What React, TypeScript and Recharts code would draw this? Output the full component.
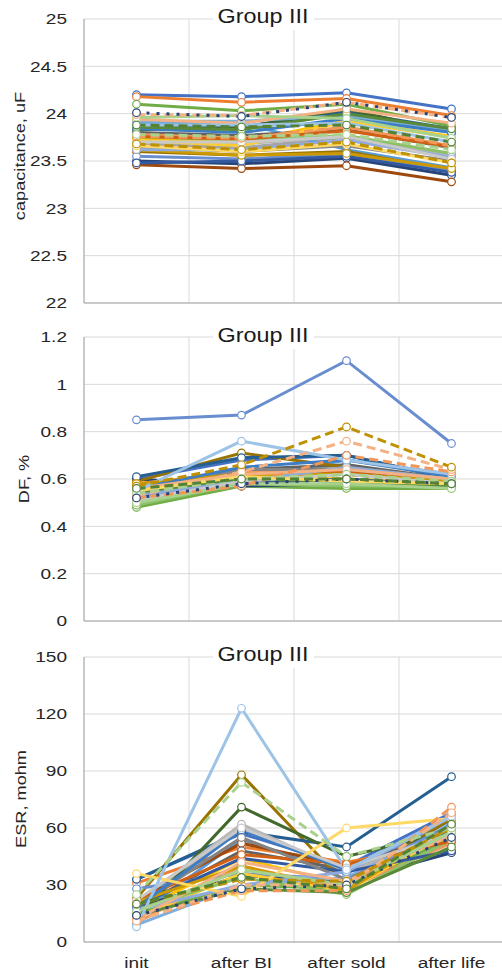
import React from 'react';
import { LineChart, Line, XAxis, YAxis, CartesianGrid } from 'recharts';

const categories = ['init', 'after BI', 'after sold', 'after life'];

const seriesColors = [
  '#4472C4', '#ED7D31', '#A5A5A5', '#FFC000', '#5B9BD5', '#70AD47',
  '#264478', '#9E480E', '#636363', '#997300', '#255E91', '#43682B',
  '#698ED0', '#F1975A', '#B7B7B7', '#FFCD33', '#7CAFDD', '#8CC168',
  '#335AA1', '#D26012', '#848484', '#CC9A00', '#3C7DC4', '#5A8A39',
  '#8FAADC', '#F4B183', '#C9C9C9', '#FFD966', '#9DC3E6', '#A9D18E',
  '#F1975A', '#F4B183', '#BF9000', '#A9D18E', '#264478', '#548235',
];

const seriesDash = [
  '', '', '', '', '', '', '', '', '', '', '', '',
  '', '', '', '', '', '', '', '', '', '', '', '',
  '', '', '', '', '', '',
  '9 5', '9 5', '9 5', '9 5', '3 7', '9 5',
];

const capacitance = [
  [24.2, 24.18, 24.22, 24.05],
  [24.18, 24.12, 24.16, 23.98],
  [23.68, 23.64, 23.75, 23.55],
  [23.74, 23.7, 23.93, 23.76],
  [23.9, 23.9, 23.62, 23.43],
  [24.1, 24.03, 24.1, 23.87],
  [23.5, 23.47, 23.53, 23.35],
  [23.46, 23.42, 23.45, 23.28],
  [23.8, 23.77, 23.83, 23.64],
  [23.6, 23.56, 23.6, 23.4],
  [23.86, 23.86, 24.02, 23.84],
  [23.83, 23.85, 24.05, 23.8],
  [23.55, 23.52, 23.58, 23.4],
  [23.78, 23.74, 23.86, 23.66],
  [23.7, 23.68, 23.76, 23.56],
  [23.72, 23.66, 23.92, 23.75],
  [23.92, 23.92, 23.98, 23.82],
  [23.76, 23.72, 23.77, 23.58],
  [23.48, 23.5, 23.55, 23.38],
  [23.76, 23.73, 23.82, 23.65],
  [23.65, 23.6, 23.66, 23.5],
  [23.62, 23.56, 23.58, 23.42],
  [23.84, 23.8, 23.95, 23.8],
  [23.86, 23.83, 24.0, 23.84],
  [23.62, 23.62, 23.72, 23.54],
  [23.94, 23.9, 24.05, 23.9],
  [23.7, 23.7, 23.76, 23.52],
  [23.66, 23.6, 23.68, 23.48],
  [23.88, 23.88, 23.9, 23.7],
  [23.96, 23.98, 23.95, 23.74],
  [23.76, 23.74, 23.86, 23.66],
  [23.99, 23.98, 24.12, 23.96],
  [23.68, 23.62, 23.7, 23.48],
  [23.78, 23.76, 23.78, 23.62],
  [24.01, 23.97, 24.12, 23.96],
  [23.88, 23.86, 23.88, 23.7],
];

const dissipation = [
  [0.6, 0.68, 0.7, 0.6],
  [0.58, 0.62, 0.64, 0.59],
  [0.5, 0.6, 0.66, 0.59],
  [0.56, 0.6, 0.6, 0.58],
  [0.54, 0.6, 0.68, 0.62],
  [0.48, 0.57, 0.56, 0.56],
  [0.6, 0.57, 0.58, 0.57],
  [0.57, 0.63, 0.63, 0.59],
  [0.56, 0.64, 0.66, 0.6],
  [0.59, 0.71, 0.65, 0.6],
  [0.61, 0.69, 0.7, 0.6],
  [0.55, 0.6, 0.62, 0.58],
  [0.85, 0.87, 1.1, 0.75],
  [0.58, 0.63, 0.62, 0.59],
  [0.52, 0.61, 0.64, 0.6],
  [0.55, 0.62, 0.6, 0.58],
  [0.53, 0.58, 0.63, 0.6],
  [0.49, 0.58, 0.57, 0.57],
  [0.57, 0.58, 0.6, 0.57],
  [0.57, 0.62, 0.63, 0.59],
  [0.55, 0.64, 0.64, 0.6],
  [0.58, 0.62, 0.62, 0.59],
  [0.56, 0.65, 0.68, 0.61],
  [0.54, 0.6, 0.59, 0.57],
  [0.53, 0.59, 0.65, 0.6],
  [0.56, 0.62, 0.64, 0.6],
  [0.51, 0.59, 0.62, 0.58],
  [0.55, 0.61, 0.59, 0.58],
  [0.55, 0.76, 0.68, 0.62],
  [0.5, 0.58, 0.58, 0.56],
  [0.52, 0.57, 0.7, 0.63],
  [0.53, 0.63, 0.76, 0.64],
  [0.57, 0.66, 0.82, 0.65],
  [0.54, 0.6, 0.62, 0.59],
  [0.52, 0.58, 0.6, 0.58],
  [0.56, 0.6, 0.6, 0.58],
];

const esr = [
  [33, 57, 40, 68],
  [31, 50, 42, 52],
  [20, 60, 38, 55],
  [16, 44, 30, 60],
  [14, 54, 36, 64],
  [15, 30, 28, 55],
  [18, 35, 32, 47],
  [22, 52, 40, 57],
  [18, 48, 38, 60],
  [23, 88, 30, 65],
  [33, 58, 50, 87],
  [12, 71, 45, 58],
  [28, 36, 33, 62],
  [10, 40, 28, 52],
  [21, 62, 37, 56],
  [13, 36, 27, 58],
  [9, 30, 34, 60],
  [17, 34, 25, 54],
  [19, 44, 37, 48],
  [22, 46, 41, 53],
  [19, 55, 33, 58],
  [21, 40, 27, 61],
  [18, 59, 38, 66],
  [14, 28, 26, 50],
  [17, 30, 37, 66],
  [12, 42, 32, 56],
  [22, 60, 39, 57],
  [36, 24, 60, 65],
  [8, 123, 38, 66],
  [16, 38, 30, 58],
  [12, 27, 27, 71],
  [11, 30, 30, 68],
  [20, 33, 32, 60],
  [25, 84, 45, 60],
  [14, 28, 30, 55],
  [20, 34, 28, 62],
];

const capTicks = [22, 22.5, 23, 23.5, 24, 24.5, 25];
const dfTicks = [0, 0.2, 0.4, 0.6, 0.8, 1, 1.2];
const esrTicks = [0, 30, 60, 90, 120, 150];

const titleText = 'Group III';
const yLabels = ['capacitance, uF', 'DF, %', 'ESR, mohm'];

const FONT = '"Liberation Sans", Arial, Helvetica, sans-serif';
const PLOT_LEFT = 84;
const PLOT_W = 420;
const CHART_W = 510;
const BAND = PLOT_W / 4;
const GRID = '#d9d9d9';
const AXIS = '#a6a6a6';
const TEXT = '#262626';

function buildRows(values: number[][]) {
  return categories.map((cat, ci) => {
    const row: Record<string, any> = { cat };
    values.forEach((s, si) => {
      row['s' + si] = s[ci];
    });
    return row;
  });
}

const YTick = (props: any) => (
  <text
    transform={`translate(67,${props.y}) scale(1.27,1)`}
    textAnchor="end"
    dominantBaseline="central"
    fontSize={15}
    fill={TEXT}
    fontFamily={FONT}
  >
    {props.payload.value}
  </text>
);

const XTick = (props: any) => (
  <text
    transform={`translate(${props.x},${props.y + 13}) scale(1.27,1)`}
    textAnchor="middle"
    dominantBaseline="central"
    fontSize={15}
    fill={TEXT}
    fontFamily={FONT}
  >
    {props.payload.value}
  </text>
);

const vPoints = [1, 2, 3].map((i) => PLOT_LEFT + i * BAND);

type PanelProps = {
  top: number;
  height: number;
  mTop: number;
  mBottom: number;
  xH: number;
  showX: boolean;
  values: number[][];
  ticks: number[];
};

function Panel({ top, height, mTop, mBottom, xH, showX, values, ticks }: PanelProps) {
  const rows = buildRows(values);
  return (
    <div style={{ position: 'absolute', left: 0, top, width: CHART_W, height }}>
      <LineChart
        width={CHART_W}
        height={height}
        data={rows}
        margin={{ top: mTop, right: CHART_W - PLOT_LEFT - PLOT_W, bottom: mBottom, left: 0 }}
      >
        <CartesianGrid stroke={GRID} strokeWidth={1} verticalPoints={vPoints} />
        <XAxis
          dataKey="cat"
          height={xH}
          padding={{ left: BAND / 2, right: BAND / 2 }}
          axisLine={{ stroke: AXIS, strokeWidth: 1.2 }}
          tickLine={false}
          tick={showX ? <XTick /> : false}
          interval={0}
        />
        <YAxis
          width={PLOT_LEFT}
          domain={[ticks[0], ticks[ticks.length - 1]]}
          ticks={ticks}
          allowDataOverflow
          axisLine={{ stroke: AXIS, strokeWidth: 1.2 }}
          tickLine={false}
          tick={<YTick />}
        />
        {values.map((_, si) => (
          <Line
            key={si}
            type="linear"
            dataKey={'s' + si}
            stroke={seriesColors[si]}
            strokeWidth={3}
            strokeDasharray={seriesDash[si] || undefined}
            dot={{ r: 3.8, fill: '#ffffff', stroke: seriesColors[si], strokeWidth: 1.2, strokeDasharray: '' }}
            activeDot={false}
            isAnimationActive={false}
          />
        ))}
      </LineChart>
    </div>
  );
}

const titleBaselines = [23, 342, 661];
const labelCenters = [
  { x: 20, y: 156 },
  { x: 24, y: 479 },
  { x: 21, y: 799 },
];

export default function App() {
  return (
    <div
      style={{
        position: 'absolute',
        left: 0,
        top: 0,
        width: 502,
        height: 972,
        overflow: 'hidden',
        background: '#ffffff',
      }}
    >
      <Panel top={0} height={320} mTop={19} mBottom={16} xH={1} showX={false} values={capacitance} ticks={capTicks} />
      <Panel top={320} height={320} mTop={17} mBottom={18} xH={1} showX={false} values={dissipation} ticks={dfTicks} />
      <Panel top={640} height={332} mTop={17} mBottom={0} xH={30} showX={true} values={esr} ticks={esrTicks} />
      <svg
        width={502}
        height={972}
        style={{ position: 'absolute', left: 0, top: 0, pointerEvents: 'none' }}
      >
        {titleBaselines.map((b, i) => (
          <g key={'t' + i}>
            <rect x={213} y={b - 18} width={101} height={25} fill="#ffffff" />
            <text
              transform={`translate(263,${b}) scale(1.2,1)`}
              textAnchor="middle"
              fontSize={19.5}
              fill="#1a1a1a"
              fontFamily={FONT}
            >
              {titleText}
            </text>
          </g>
        ))}
        {labelCenters.map((c, i) => (
          <text
            key={'l' + i}
            transform={`translate(${c.x},${c.y}) rotate(-90) scale(1.3,1)`}
            textAnchor="middle"
            dominantBaseline="central"
            fontSize={14}
            fill={TEXT}
            fontFamily={FONT}
          >
            {yLabels[i]}
          </text>
        ))}
      </svg>
    </div>
  );
}
